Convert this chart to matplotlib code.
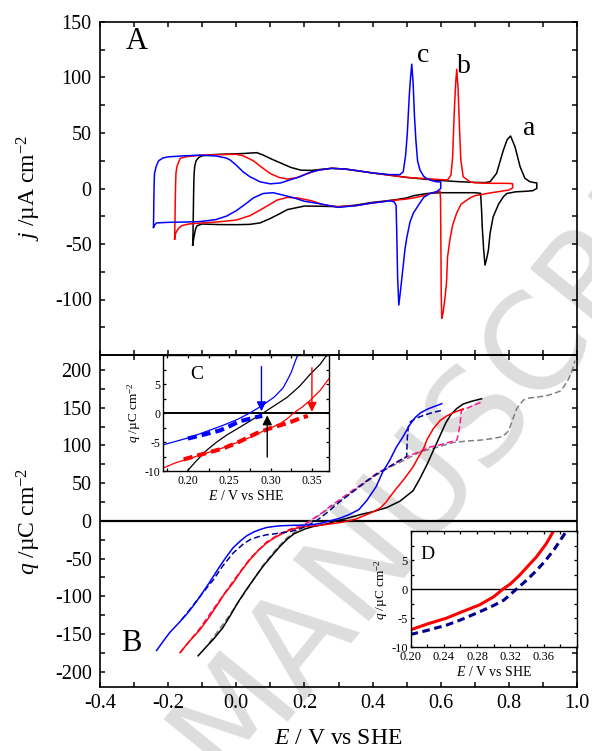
import numpy as np
import matplotlib
matplotlib.use('Agg')
import matplotlib.pyplot as plt
from matplotlib.ticker import MultipleLocator

# ---------------- Panel A: cyclic voltammograms (E / V, j / uA cm-2) ----------------
a_an_E = [-0.128, -0.127, -0.126, -0.125, -0.124, -0.122, -0.118, -0.11, -0.10, -0.07, -0.03, 0.02, 0.06,
          0.08, 0.10, 0.13, 0.16, 0.19, 0.22, 0.25, 0.28, 0.32, 0.36, 0.40, 0.45, 0.50, 0.55, 0.60, 0.65,
          0.70, 0.73, 0.745, 0.764, 0.784, 0.795, 0.805, 0.818, 0.833, 0.847, 0.862, 0.875, 0.882]
a_an_j = [-51, -40, -20, 0, 12, 20, 25, 28, 29.5, 30.5, 31, 31.5, 32.3,
          30, 27, 23, 19, 16.5, 16.3, 17.3, 18.2, 17.5, 15.8, 14, 12, 10, 8.5, 7.2, 6.2,
          5.5, 5.3, 6.1, 13.7, 34.7, 44, 47.3, 37.7, 19.6, 9.2, 6.1, 5.3, 5.0]
a_ca_E = [0.882, 0.87, 0.85, 0.82, 0.794, 0.784, 0.77, 0.754, 0.745, 0.74, 0.735, 0.73, 0.726, 0.722,
          0.72, 0.717, 0.70, 0.65, 0.60, 0.56, 0.52, 0.50, 0.47, 0.43, 0.40, 0.35, 0.30, 0.25, 0.20,
          0.15, 0.13, 0.10, 0.07, 0.04, 0.0, -0.05, -0.10, -0.115, -0.12, -0.125, -0.128]
a_ca_j = [0, -2, -2.5, -3, -4.5, -7.4, -14, -25.4, -40, -55.4, -63, -69, -55, -35,
          -20, -4.3, -3.8, -3.8, -3.8, -4.5, -6.5, -8.5, -10, -11.5, -12.5, -15, -16.4, -16, -15.8,
          -19, -22.3, -27, -31, -32.3, -32.6, -32.5, -32, -33.5, -37, -45, -51]

b_an_E = [-0.181, -0.180, -0.179, -0.178, -0.177, -0.174, -0.165, -0.15, -0.106, -0.05, 0.0, 0.02, 0.05,
          0.075, 0.10, 0.125, 0.15, 0.175, 0.20, 0.24, 0.28, 0.32, 0.36, 0.40, 0.45, 0.50, 0.55, 0.60,
          0.62, 0.630, 0.635, 0.640, 0.644, 0.647, 0.651, 0.655, 0.659, 0.666, 0.686, 0.70, 0.745, 0.80, 0.811]
b_an_j = [-45.6, -30, -10, 5, 14, 20, 27, 28.5, 30, 30.5, 30.8, 29.5, 25,
          19, 13.5, 10, 8.5, 9.5, 12.5, 16.5, 18.2, 17.5, 15.8, 14, 12, 10, 9, 8,
          7.7, 12, 28.6, 70.7, 95, 107.4, 90, 55, 25.7, 10.6, 6, 5.2, 4.7, 4.6, 4.3]
b_ca_E = [0.811, 0.80, 0.745, 0.70, 0.686, 0.66, 0.647, 0.635, 0.627, 0.62, 0.617, 0.612, 0.607, 0.603,
          0.6015, 0.6005, 0.5995, 0.598, 0.59, 0.57, 0.55, 0.52, 0.50, 0.45, 0.40, 0.35, 0.30, 0.26,
          0.22, 0.18, 0.15, 0.12, 0.10, 0.07, 0.04, 0.0, -0.05, -0.10, -0.14, -0.16, -0.17, -0.178, -0.181]
b_ca_j = [0.5, -1.4, -4, -6.5, -8.5, -14, -22, -33, -46, -62, -85, -100, -112, -117,
          -95, -50, -10, -2.5, -3, -4.5, -6.5, -8.5, -9.5, -11, -13, -15.5, -16.4, -15,
          -11, -8.5, -8, -10.4, -14, -19.4, -24.5, -28.4, -30, -31, -32, -33.5, -36, -40.4, -45.6]

c_an_E = [-0.243, -0.2425, -0.242, -0.241, -0.240, -0.235, -0.228, -0.215, -0.20, -0.15, -0.106, -0.06,
          -0.03, -0.018, 0.0, 0.02, 0.04, 0.07, 0.10, 0.13, 0.16, 0.187, 0.22, 0.245, 0.28, 0.32, 0.36,
          0.40, 0.45, 0.48, 0.49, 0.497, 0.502, 0.508, 0.511, 0.515, 0.519, 0.523, 0.527, 0.532, 0.539,
          0.55, 0.559, 0.575, 0.588, 0.60]
c_an_j = [-35, -25, -10, 5, 13.7, 20, 25, 27.5, 28.5, 29.5, 30, 29.3,
          27.5, 25.7, 21, 15, 10.6, 6, 4.2, 5, 8, 10.6, 15, 16.7, 18.2, 17.5, 15.8,
          14, 12.5, 12.5, 15, 30, 50, 85, 98, 112, 95, 65, 44, 25, 16.7,
          11, 9, 7, 6, 6]
c_ca_E = [0.60, 0.588, 0.569, 0.55, 0.539, 0.52, 0.51, 0.50, 0.495, 0.488, 0.482, 0.477, 0.4735, 0.471,
          0.469, 0.463, 0.45, 0.43, 0.40, 0.35, 0.30, 0.25, 0.20, 0.17, 0.138, 0.108, 0.079, 0.05,
          0.03, 0.0, -0.028, -0.06, -0.106, -0.15, -0.20, -0.234, -0.24, -0.243]
c_ca_j = [0, -2.9, -4.3, -8, -13, -22, -30, -45, -55, -75, -92, -105, -80, -40,
          -15, -12, -11, -12, -13, -15.5, -17, -14, -11.5, -8.5, -6, -3.8, -4.5, -8.5,
          -13.3, -20, -24.8, -28, -29.8, -30.2, -30.5, -31, -33, -35]

# ---------------- Panel B: charge density (E / V, q / uC cm-2) ----------------
qb_blue_E = [-0.234, -0.215, -0.195, -0.17, -0.146, -0.125, -0.106, -0.085, -0.067, -0.045, -0.028, -0.01,
             0.011, 0.03, 0.05, 0.07, 0.089, 0.11, 0.128, 0.16, 0.19, 0.226, 0.25, 0.275, 0.304, 0.33,
             0.36, 0.383, 0.41, 0.43, 0.45, 0.47, 0.49, 0.51, 0.525, 0.54, 0.56, 0.58, 0.603]
qb_blue_q = [-172, -160, -148, -136, -124, -112, -100, -86, -73.5, -58, -47, -36,
             -27, -20, -15, -11.5, -8.8, -7.5, -6.6, -6, -5.7, -5, -3, 0, 3.5, 8,
             15, 27, 45, 65, 80, 98, 112, 128, 137, 143, 148, 151.5, 155.4]
qb_navy_E = [-0.16, -0.13, -0.106, -0.085, -0.067, -0.04, -0.009, 0.02, 0.04, 0.065, 0.089, 0.128, 0.16,
             0.19, 0.21, 0.235, 0.275, 0.30, 0.343, 0.38, 0.412, 0.45, 0.471, 0.495, 0.50, 0.502, 0.505,
             0.51, 0.525, 0.55, 0.575, 0.603]
qb_navy_q = [-131, -114, -100, -88, -78, -60, -42.6, -31, -25, -21, -18.5, -16.3, -14,
             -10, -6, 0, 14, 24, 39, 52, 62, 72, 78, 84, 85, 110, 125,
             131, 135.6, 140, 143.5, 146.5]
qb_red_E = [-0.165, -0.14, -0.106, -0.08, -0.058, -0.035, -0.009, 0.015, 0.04, 0.065, 0.089, 0.11, 0.128,
            0.158, 0.177, 0.20, 0.235, 0.263, 0.29, 0.312, 0.328, 0.35, 0.37, 0.392, 0.422, 0.44, 0.451,
            0.47, 0.49, 0.505, 0.519, 0.535, 0.549, 0.56, 0.578, 0.598, 0.617, 0.637, 0.666]
qb_red_q = [-174.7, -161, -144, -128, -113, -97, -82, -66, -51.5, -39, -29.4, -23, -18.5,
            -12, -9.7, -7.8, -6.4, -4.9, -3.2, -1.8, 0, 2.2, 6, 10, 16.7, 25, 32,
            43, 54, 63, 71.7, 85, 95, 108, 122, 133, 139, 143.5, 148.5]
qb_pink_E = [-0.165, -0.14, -0.106, -0.058, -0.009, 0.04, 0.089, 0.128, 0.158, 0.18, 0.20, 0.216, 0.25,
             0.275, 0.30, 0.343, 0.38, 0.412, 0.45, 0.50, 0.549, 0.569, 0.60, 0.63, 0.647, 0.652, 0.657,
             0.661, 0.68, 0.70, 0.72]
qb_pink_q = [-175, -161, -142, -111, -80, -50, -28, -17, -11, -8, -5, 0, 10,
             19, 27, 41, 52, 63, 72, 85, 93.7, 98, 101, 105, 107, 115, 130,
             146.5, 150, 154, 157.5]
qb_black_E = [-0.112, -0.09, -0.067, -0.04, -0.018, 0.005, 0.03, 0.055, 0.079, 0.105, 0.128, 0.15, 0.17,
              0.20, 0.226, 0.25, 0.27, 0.293, 0.32, 0.35, 0.37, 0.40, 0.441, 0.48, 0.519, 0.54, 0.56,
              0.58, 0.60, 0.615, 0.63, 0.647, 0.666, 0.69, 0.72]
qb_black_q = [-179, -168, -157, -142, -126, -108, -91, -75, -60, -46, -34, -24, -17,
              -11, -7.5, -5.5, -3.5, 0, 2.7, 6.5, 9, 12, 17.5, 26, 40, 57, 75,
              95, 115, 130, 141, 149, 155, 158.5, 162]
qb_gray_E = [-0.08, -0.04, 0.0, 0.04, 0.08, 0.12, 0.15, 0.18, 0.20, 0.22, 0.25, 0.30, 0.343, 0.38,
             0.412, 0.45, 0.50, 0.539, 0.60, 0.637, 0.68, 0.715, 0.75, 0.774, 0.79, 0.80, 0.81, 0.823,
             0.842, 0.86, 0.881, 0.91, 0.93, 0.95, 0.96, 0.975, 0.984, 0.994]
qb_gray_q = [-162, -138, -112, -85, -58, -36, -22, -12, -6, 0, 9.5, 25, 39, 51,
             61, 71, 82, 91.5, 99, 104, 106, 107, 109, 111, 115, 120, 133, 148.7,
             160, 163, 164, 166, 168.6, 172, 177, 188, 197, 212.5]

# ---------------- Inset C ----------------
qc_blue_E = [0.17, 0.185, 0.203, 0.22, 0.243, 0.26, 0.275, 0.29, 0.304, 0.315, 0.32, 0.325, 0.33, 0.336]
qc_blue_q = [-5.5, -4.9, -4.2, -3.3, -2.1, -1.1, 0, 1.3, 2.7, 4.3, 5.6, 7, 9, 11]
qc_bluedash_E = [0.20, 0.22, 0.239, 0.25, 0.263, 0.275, 0.283, 0.29]
qc_bluedash_q = [-4.4, -3.7, -3.0, -2.3, -1.4, -1.0, -0.7, -0.5]
qc_black_E = [0.20, 0.21, 0.223, 0.235, 0.247, 0.26, 0.275, 0.291, 0.305, 0.32, 0.335, 0.348, 0.36, 0.366, 0.375]
qc_black_q = [-9.9, -8.3, -6.4, -5.0, -3.8, -2.7, -1.4, 0, 1.3, 2.7, 4.6, 6.7, 8.4, 9.6, 11]
qc_red_E = [0.17, 0.185, 0.203, 0.22, 0.235, 0.25, 0.263, 0.277, 0.29, 0.30, 0.312, 0.32, 0.328, 0.338,
            0.348, 0.36, 0.371]
qc_red_q = [-9.5, -8.6, -7.8, -7.0, -6.4, -5.6, -4.9, -4.1, -3.2, -2.6, -1.8, -1.0, 0, 1.0, 2.2, 3.9, 6.0]
qc_reddash_E = [0.195, 0.22, 0.243, 0.263, 0.283, 0.30, 0.312, 0.325, 0.34, 0.345]
qc_reddash_q = [-8.0, -7.0, -6.1, -4.9, -3.5, -2.6, -2.1, -1.5, -0.7, -0.5]
arrow_E = [0.289, 0.296, 0.350]
arrow_from = [8.0, -7.6, 7.8]
arrow_to = [0.3, -0.4, 0.2]
arrow_colors = ['#0000ff', 'black', '#ff0000']

# ---------------- Inset D ----------------
qd_red_E = [0.20, 0.22, 0.243, 0.26, 0.283, 0.30, 0.311, 0.32, 0.331, 0.34, 0.351, 0.363, 0.371, 0.38]
qd_red_q = [-7.0, -6.0, -5.0, -4.0, -2.7, -1.3, 0, 0.9, 2.4, 3.8, 5.5, 7.8, 9.8, 12]
qd_navy_E = [0.20, 0.22, 0.243, 0.26, 0.283, 0.30, 0.312, 0.328, 0.34, 0.352, 0.362, 0.372, 0.386, 0.395]
qd_navy_q = [-7.8, -7.1, -6.2, -5.3, -3.9, -2.8, -1.9, 0.1, 1.6, 3.3, 4.9, 6.7, 9.7, 12]

BLUE, RED, NAVY, PINK, GRAY = '#0000ff', '#ff0000', '#00008b', '#ff1493', '#808080'

plt.rcParams['font.family'] = ['Liberation Serif', 'DejaVu Serif']
plt.rcParams['mathtext.fontset'] = 'custom'
plt.rcParams['mathtext.rm'] = 'Liberation Serif'
plt.rcParams['mathtext.it'] = 'Liberation Serif:italic'
plt.rcParams['axes.unicode_minus'] = False

W, H = 592, 751
fig = plt.figure(figsize=(W / 100, H / 100), dpi=100)


def rect(l, t, r, b):
    return [l / W, 1 - b / H, (r - l) / W, (b - t) / H]


def style(ax, lw=1.2, length=3.5, size=14.5, padx=5, pady=6):
    ax.set_facecolor('none')
    ax.tick_params(which='both', direction='in', top=True, right=True, width=lw * 0.9,
                   length=length, labelsize=size)
    ax.tick_params(axis='x', pad=padx)
    ax.tick_params(axis='y', pad=pady)
    for s in ax.spines.values():
        s.set_linewidth(lw)


# watermark
fig.text(0.80, 0.445, 'MANUSCRIPT', rotation=51, fontsize=96, color='#dddddd',
         family='DejaVu Sans', ha='center', va='center', zorder=-5)

axA = fig.add_axes(rect(100, 22, 577, 355))
axB = fig.add_axes(rect(100, 355, 577, 686.7))
axC = fig.add_axes(rect(163, 355, 329.3, 471))
axD = fig.add_axes(rect(410.5, 531, 577, 647.3))

# ---- A ----
style(axA)
lwc = 1.1
axA.plot(np.concatenate([a_an_E, a_ca_E]), np.concatenate([a_an_j, a_ca_j]), color='black', lw=lwc)
axA.plot(np.concatenate([b_an_E, b_ca_E]), np.concatenate([b_an_j, b_ca_j]), color=RED, lw=lwc)
axA.plot(np.concatenate([c_an_E, c_ca_E]), np.concatenate([c_an_j, c_ca_j]), color=BLUE, lw=lwc)
axA.set_xlim(-0.4, 1.0)
axA.set_ylim(-150, 150)
axA.xaxis.set_major_locator(MultipleLocator(0.2))
axA.xaxis.set_minor_locator(MultipleLocator(0.1))
axA.set_yticks([-100, -50, 0, 50, 100, 150])
axA.yaxis.set_minor_locator(MultipleLocator(25))
axA.tick_params(axis='x', labelbottom=False)
axA.set_ylabel(r'$j$ /µA cm$^{-2}$', fontsize=17)
axA.yaxis.set_label_coords(-0.12, 0.5)
axA.text(0.078, 0.94, 'A', transform=axA.transAxes, fontsize=22, ha='center', va='center')
axA.text(0.548, 114, 'c', fontsize=20, ha='center', va='baseline')
axA.text(0.669, 104.5, 'b', fontsize=20, ha='center', va='baseline')
axA.text(0.86, 48, 'a', fontsize=20, ha='center', va='baseline')

# ---- B ----
style(axB)
axB.axhline(0, color='black', lw=1.6)
axB.plot(qb_gray_E, qb_gray_q, color=GRAY, lw=1.1, ls=(0, (4, 2)))
axB.plot(qb_black_E, qb_black_q, color='black', lw=lwc)
axB.plot(qb_pink_E, qb_pink_q, color=PINK, lw=1.1, ls=(0, (4, 2)))
axB.plot(qb_red_E, qb_red_q, color=RED, lw=lwc)
axB.plot(qb_navy_E, qb_navy_q, color=NAVY, lw=1.1, ls=(0, (4, 2)))
axB.plot(qb_blue_E, qb_blue_q, color=BLUE, lw=lwc)
axB.set_xlim(-0.4, 1.0)
axB.set_ylim(-220, 220)
axB.xaxis.set_minor_locator(MultipleLocator(0.1))
axB.set_xticks([-0.4, -0.2, 0.0, 0.2, 0.4, 0.6, 0.8, 1.0])
axB.set_xticklabels(['-0.4', '-0.2', '0.0', '0.2', '0.4', '0.6', '0.8', '1.0'])
axB.set_yticks([-200, -150, -100, -50, 0, 50, 100, 150, 200])
axB.yaxis.set_minor_locator(MultipleLocator(25))
axB.set_ylabel(r'$q$ /µC cm$^{-2}$', fontsize=17)
axB.yaxis.set_label_coords(-0.12, 0.5)
axB.set_xlabel(r'$E$ / V vs SHE', fontsize=17, labelpad=11)
axB.text(0.065, 0.129, 'B', transform=axB.transAxes, fontsize=22, ha='center', va='center')

# ---- C ----
style(axC, lw=1.0, length=2.2, size=8.5, padx=3, pady=2)
axC.set_facecolor('white')
axC.axhline(0, color='black', lw=1.4)
axC.plot(qc_black_E, qc_black_q, color='black', lw=0.9)
axC.plot(qc_red_E, qc_red_q, color=RED, lw=0.9)
axC.plot(qc_blue_E, qc_blue_q, color=BLUE, lw=0.9)
axC.plot(qc_reddash_E, qc_reddash_q, color=RED, lw=3, ls=(0, (2.2, 1.2)))
axC.plot(qc_bluedash_E, qc_bluedash_q, color=BLUE, lw=3, ls=(0, (2.2, 1.2)))
for xe, y0, y1, col in zip(arrow_E, arrow_from, arrow_to, arrow_colors):
    axC.annotate('', xy=(xe, y1), xytext=(xe, y0),
                 arrowprops=dict(arrowstyle='-|>', color=col, lw=1.0, mutation_scale=14,
                                 shrinkA=0, shrinkB=0))
axC.set_xlim(0.17, 0.371)
axC.set_ylim(-10, 10)
axC.set_xticks([0.20, 0.25, 0.30, 0.35])
axC.set_xticklabels(['0.20', '0.25', '0.30', '0.35'])
axC.xaxis.set_minor_locator(MultipleLocator(0.025))
axC.set_yticks([-10, -5, 0, 5])
axC.yaxis.set_minor_locator(MultipleLocator(2.5))
axC.set_ylabel(r'$q$ /µC cm$^{-2}$', fontsize=9.5, labelpad=1)
axC.set_xlabel(r'$E$ / V vs SHE', fontsize=10, labelpad=1)
axC.text(0.2, 0.83, 'C', transform=axC.transAxes, fontsize=14, ha='center', va='center')

# ---- D ----
style(axD, lw=1.0, length=2.2, size=9, padx=3, pady=2)
axD.set_facecolor('white')
axD.axhline(0, color='black', lw=1.0)
axD.plot(qd_navy_E, qd_navy_q, color=NAVY, lw=2.2, ls=(0, (2.5, 1.5)))
axD.plot(qd_red_E, qd_red_q, color=RED, lw=2.2)
axD.set_xlim(0.2, 0.4)
axD.set_ylim(-10, 10)
axD.set_xticks([0.20, 0.24, 0.28, 0.32, 0.36])
axD.set_xticklabels(['0.20', '0.24', '0.28', '0.32', '0.36'])
axD.xaxis.set_minor_locator(MultipleLocator(0.02))
axD.set_yticks([-10, -5, 0, 5])
axD.yaxis.set_minor_locator(MultipleLocator(2.5))
axD.set_ylabel(r'$q$ /µC cm$^{-2}$', fontsize=9.5, labelpad=1)
axD.set_xlabel(r'$E$ / V vs SHE', fontsize=10, labelpad=1)
axD.text(0.1, 0.8, 'D', transform=axD.transAxes, fontsize=14, ha='center', va='center')

fig.savefig('out.png', dpi=100)
